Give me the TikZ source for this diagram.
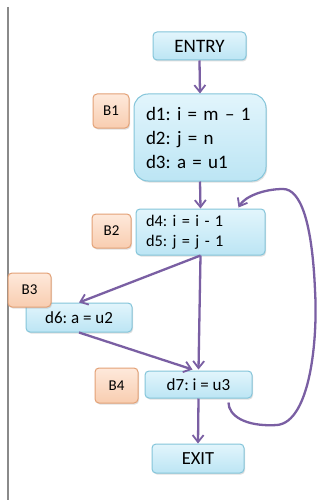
\documentclass[tikz,border=0pt]{standalone}
\usepackage{fontspec}
\setmainfont{Carlito}
\usetikzlibrary{arrows.meta,shadows,calc}
\definecolor{boxtop}{HTML}{E2F5FC}
\definecolor{boxbot}{HTML}{BCE5F4}
\definecolor{boxline}{HTML}{84C5DA}
\definecolor{labtop}{HTML}{FEE9DB}
\definecolor{labbot}{HTML}{F8CDB0}
\definecolor{labline}{HTML}{E3A176}
\definecolor{arr}{HTML}{7A5FA3}
\definecolor{rule}{HTML}{8A8A8A}
\frenchspacing
\tikzset{
  blk/.style={draw=boxline, line width=1pt, top color=boxtop, bottom color=boxbot,
    rounded corners=4pt, inner sep=0pt, font=\fontsize{17}{20}\selectfont,
    drop shadow={opacity=0.25, shadow xshift=1pt, shadow yshift=-1.5pt}},
  lab/.style={draw=labline, line width=1pt, top color=labtop, bottom color=labbot,
    rounded corners=4pt, inner sep=0pt, font=\fontsize{15}{17}\selectfont,
    drop shadow={opacity=0.25, shadow xshift=1pt, shadow yshift=-1.5pt}},
  flow/.style={draw=arr, line width=2.3pt, -{Straight Barb[length=7pt,width=11pt,line width=1.8pt]}},
}
\begin{document}
\begin{tikzpicture}[x=1pt,y=-1pt]
\useasboundingbox (0,0) rectangle (320,500);
\fill[white] (0,0) rectangle (320,500);
\draw[rule, line width=1.3pt] (8,7) -- (8,500);

% blocks
\node[blk, minimum width=93pt, minimum height=28pt, font=\fontsize{19}{22}\selectfont] (entry) at (199.5,46) {ENTRY};
\node[blk, rounded corners=14pt, minimum width=132pt, minimum height=87pt, text width=108pt, align=left,
  font=\fontsize{19}{24}\selectfont] (b1) at (200,137.5)
  {d1: i = m – 1\\d2: j = n\\d3: a = u1};
\node[blk, minimum width=129pt, minimum height=46pt, text width=109pt, align=left,
  font=\fontsize{16.3}{20.5}\selectfont] (b2) at (200.5,232)
  {d4: i = i - 1\\d5: j = j - 1};
\node[blk, minimum width=106pt, minimum height=29pt] (b3) at (79,317.5) {d6: a = u2};
\node[blk, minimum width=107pt, minimum height=27pt] (b4) at (198.5,384.5) {d7: i = u3};
\node[blk, minimum width=92pt, minimum height=29pt, font=\fontsize{18.5}{22}\selectfont] (exit) at (198,458.5) {EXIT};

% labels
\node[lab, minimum width=36pt, minimum height=34pt] (l1) at (111,111) {B1};
\node[lab, minimum width=39pt, minimum height=34pt] (l2) at (111.5,231) {B2};
\node[lab, minimum width=43pt, minimum height=34pt] (l3) at (29.5,290) {B3};
\node[lab, minimum width=43pt, minimum height=35pt] (l4) at (116.5,385.5) {B4};

% connectors
\draw[flow] (entry.south) -- (b1.north);
\draw[flow] (b1.south) -- (b2.north);
\draw[flow] (b2.south) -- (b3.north);
\draw[flow] (b2.south) -- ($(b4.north)+(0,-1)$);
\draw[flow] (b3.south) -- ($(b4.north)+(-6,-1)$);
\draw[flow] (b4.south) -- (exit.north);
\coordinate (loopstart) at ($(b4.south east)+(-24,4)$);
\coordinate (loopend) at ($(b2.north east)+(-27,-1)$);
\draw[flow] (loopstart) .. controls +(0,13) and (245,427) .. (277,425)
  .. controls (310,422) and (318,340) .. (315,290)
  .. controls (312,220) and (300,189) .. (283,189)
  .. controls (265,189) and (245,196) .. (loopend);
\end{tikzpicture}
\end{document}
